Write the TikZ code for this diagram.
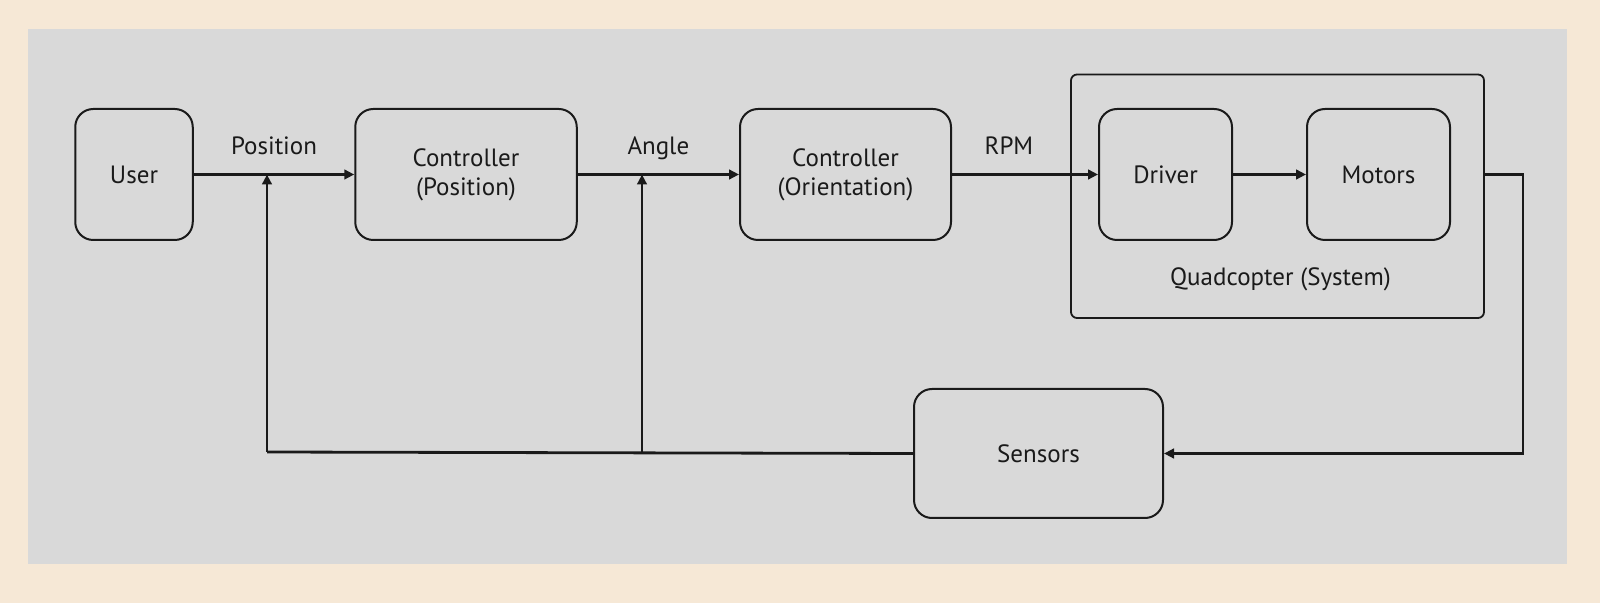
\documentclass[tikz,border=0pt]{standalone}
\usepackage{fontspec}
\setmainfont{PT Sans}
\usepackage{xcolor}
\usetikzlibrary{arrows.meta, positioning, calc}

\definecolor{creambg}{HTML}{F6E8D6}
\definecolor{panelgray}{HTML}{D9D9D9}
\definecolor{inkdark}{HTML}{1A1A1A}

\begin{document}
\begin{tikzpicture}[
    x=0.5pt, y=-0.5pt,
    block/.style={draw=inkdark, line width=1pt, rounded corners=9pt, minimum height=65.5pt,
                  align=center, font=\fontsize{12.5}{14.5}\selectfont, text=inkdark},
    arrow/.style={-{Triangle[length=5pt, width=4.8pt]}, line width=1.4pt, draw=inkdark},
    wire/.style={line width=1.4pt, draw=inkdark},
    label/.style={font=\fontsize{12.5}{15}\selectfont, text=inkdark,
                  text height=1.6ex, text depth=0.3ex},
]

% background and panel
\fill[creambg] (0,0) rectangle (1600,603);
\fill[panelgray] (28,29) rectangle (1567,564);
\useasboundingbox (0,0) rectangle (1600,603);

% system box
\node[draw=inkdark, line width=0.9pt, rounded corners=3pt, minimum width=206.5pt, minimum height=121.75pt] (quad) at (1277.5,196.25) {};
\node[label] (quadlbl) at (1280.5,279) {Quadcopter (System)};

% blocks
\node[block, minimum width=58.75pt] (user)    at (134,174.5)   {User};
\node[block, minimum width=110.75pt] (ctrlpos) at (466,174.5)  {Controller\\(Position)};
\node[block, minimum width=105.5pt] (ctrlori) at (845.5,174.5) {Controller\\(Orientation)};
\node[block, minimum width=66.5pt] (driver)  at (1165.5,174.5) {Driver};
\node[block, minimum width=71.5pt] (motors)  at (1378.5,174.5) {Motors};
\node[block, minimum width=124.5pt, minimum height=64.5pt] (sensors) at (1038.5,453.5) {Sensors};

% forward path
\draw[arrow] (user.east) -- node[above=4.5pt, label] {Position} (ctrlpos.west);
\draw[arrow] (ctrlpos.east) -- node[above=4.5pt, label] {Angle} (ctrlori.west);
\draw[arrow] (ctrlori.east) -- node[above=4.5pt, label, pos=0.39] {RPM} (driver.west);
\draw[arrow] (driver.east) -- (motors.west);

% feedback path
\coordinate (fbright) at (1523,174.5);
\coordinate (fbleft)  at (267,452);
\coordinate (fbmid)   at (642,452);
\coordinate (jpos)    at (267,174.5);
\coordinate (jang)    at (642,174.5);
\draw[arrow] (motors.east -| quad.east) -- (fbright) |- (sensors.east);
\draw[wire] (sensors.west) -- (fbleft);
\draw[arrow] (fbleft) -- (jpos);
\draw[arrow] (fbmid) -- (jang);

\end{tikzpicture}
\end{document}
